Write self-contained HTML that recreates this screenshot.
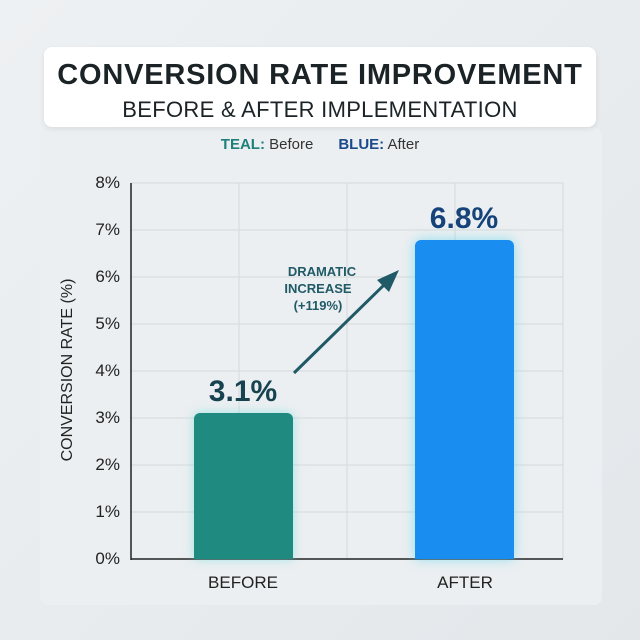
<!DOCTYPE html>
<html><head><style>
body{margin:0;width:640px;height:640px;background:linear-gradient(135deg,#eef1f3,#e3e7ea);font-family:"Liberation Sans",sans-serif;position:relative;overflow:hidden}
.panel{position:absolute;left:40px;top:128px;width:562px;height:477px;background:#eceff1;border-radius:8px}
.card{position:absolute;left:44px;top:47px;width:552px;height:80px;background:#fff;border-radius:8px;box-shadow:0 2px 6px rgba(0,0,0,.08);text-align:center}
.t1{position:absolute;top:12px;width:100%;font-size:29px;font-weight:bold;color:#1b2326;letter-spacing:0.8px}
.t2{position:absolute;top:50px;width:100%;font-size:22px;color:#1b2326;letter-spacing:0.3px}
.leg{position:absolute;top:136px;width:100%;left:0;text-align:center;font-size:15px;color:#333}
.yl{position:absolute;left:70px;width:50px;text-align:right;font-size:17px;color:#222}
.bar{position:absolute;border-radius:6px 6px 0 0}
</style></head><body>
<div class="panel"></div>
<div class="card"><div class="t1">CONVERSION RATE IMPROVEMENT</div><div class="t2">BEFORE &amp; AFTER IMPLEMENTATION</div></div>
<div class="leg"><b style="color:#1f7f7a">TEAL:</b> Before &nbsp;&nbsp;&nbsp;&nbsp;&nbsp;<b style="color:#1a4a8a">BLUE:</b> After</div>
<svg width="640" height="640" style="position:absolute;left:0;top:0">
<g stroke="#d6dadc" stroke-width="1">
<line x1="131" y1="183" x2="563" y2="183"/><line x1="131" y1="230" x2="563" y2="230"/><line x1="131" y1="277" x2="563" y2="277"/><line x1="131" y1="324" x2="563" y2="324"/><line x1="131" y1="371" x2="563" y2="371"/><line x1="131" y1="418" x2="563" y2="418"/><line x1="131" y1="465" x2="563" y2="465"/><line x1="131" y1="512" x2="563" y2="512"/>
<line x1="239" y1="183" x2="239" y2="559"/><line x1="347" y1="183" x2="347" y2="559"/><line x1="455" y1="183" x2="455" y2="559"/><line x1="563" y1="183" x2="563" y2="559"/>
</g>
<line x1="131" y1="183" x2="131" y2="560" stroke="#222" stroke-width="1.5"/>
<line x1="131" y1="559" x2="563" y2="559" stroke="#222" stroke-width="1.5"/>
<line x1="294" y1="373" x2="386" y2="283" stroke="#1f5a66" stroke-width="3"/>
<polygon points="399,270 377,280 389,292" fill="#1f5a66"/>
<text x="322" y="276" font-size="13" font-weight="bold" fill="#1f5a66" text-anchor="middle">DRAMATIC</text>
<text x="318" y="293" font-size="13" font-weight="bold" fill="#1f5a66" text-anchor="middle">INCREASE</text>
<text x="318" y="310" font-size="13" font-weight="bold" fill="#1f5a66" text-anchor="middle">(+119%)</text>
<text x="243" y="401" font-size="30" font-weight="bold" fill="#16434f" text-anchor="middle">3.1%</text>
<text x="464" y="228" font-size="30" font-weight="bold" fill="#16437a" text-anchor="middle">6.8%</text>
<text x="243" y="588" font-size="17" fill="#222" text-anchor="middle">BEFORE</text>
<text x="465" y="588" font-size="17" fill="#222" text-anchor="middle">AFTER</text>
<text transform="translate(72,370) rotate(-90)" font-size="16" fill="#222" text-anchor="middle">CONVERSION RATE (%)</text>
</svg>
<div class="bar" style="left:194px;top:413px;width:99px;height:146px;background:#1f8a80;box-shadow:0 0 10px rgba(80,220,220,.5)"></div>
<div class="bar" style="left:415px;top:240px;width:99px;height:319px;background:#1a8ef0;box-shadow:0 0 12px rgba(80,210,240,.6)"></div>
<div class="yl" style="top:173px">8%</div><div class="yl" style="top:220px">7%</div><div class="yl" style="top:267px">6%</div><div class="yl" style="top:314px">5%</div><div class="yl" style="top:361px">4%</div><div class="yl" style="top:408px">3%</div><div class="yl" style="top:455px">2%</div><div class="yl" style="top:502px">1%</div><div class="yl" style="top:549px">0%</div>
</body></html>
